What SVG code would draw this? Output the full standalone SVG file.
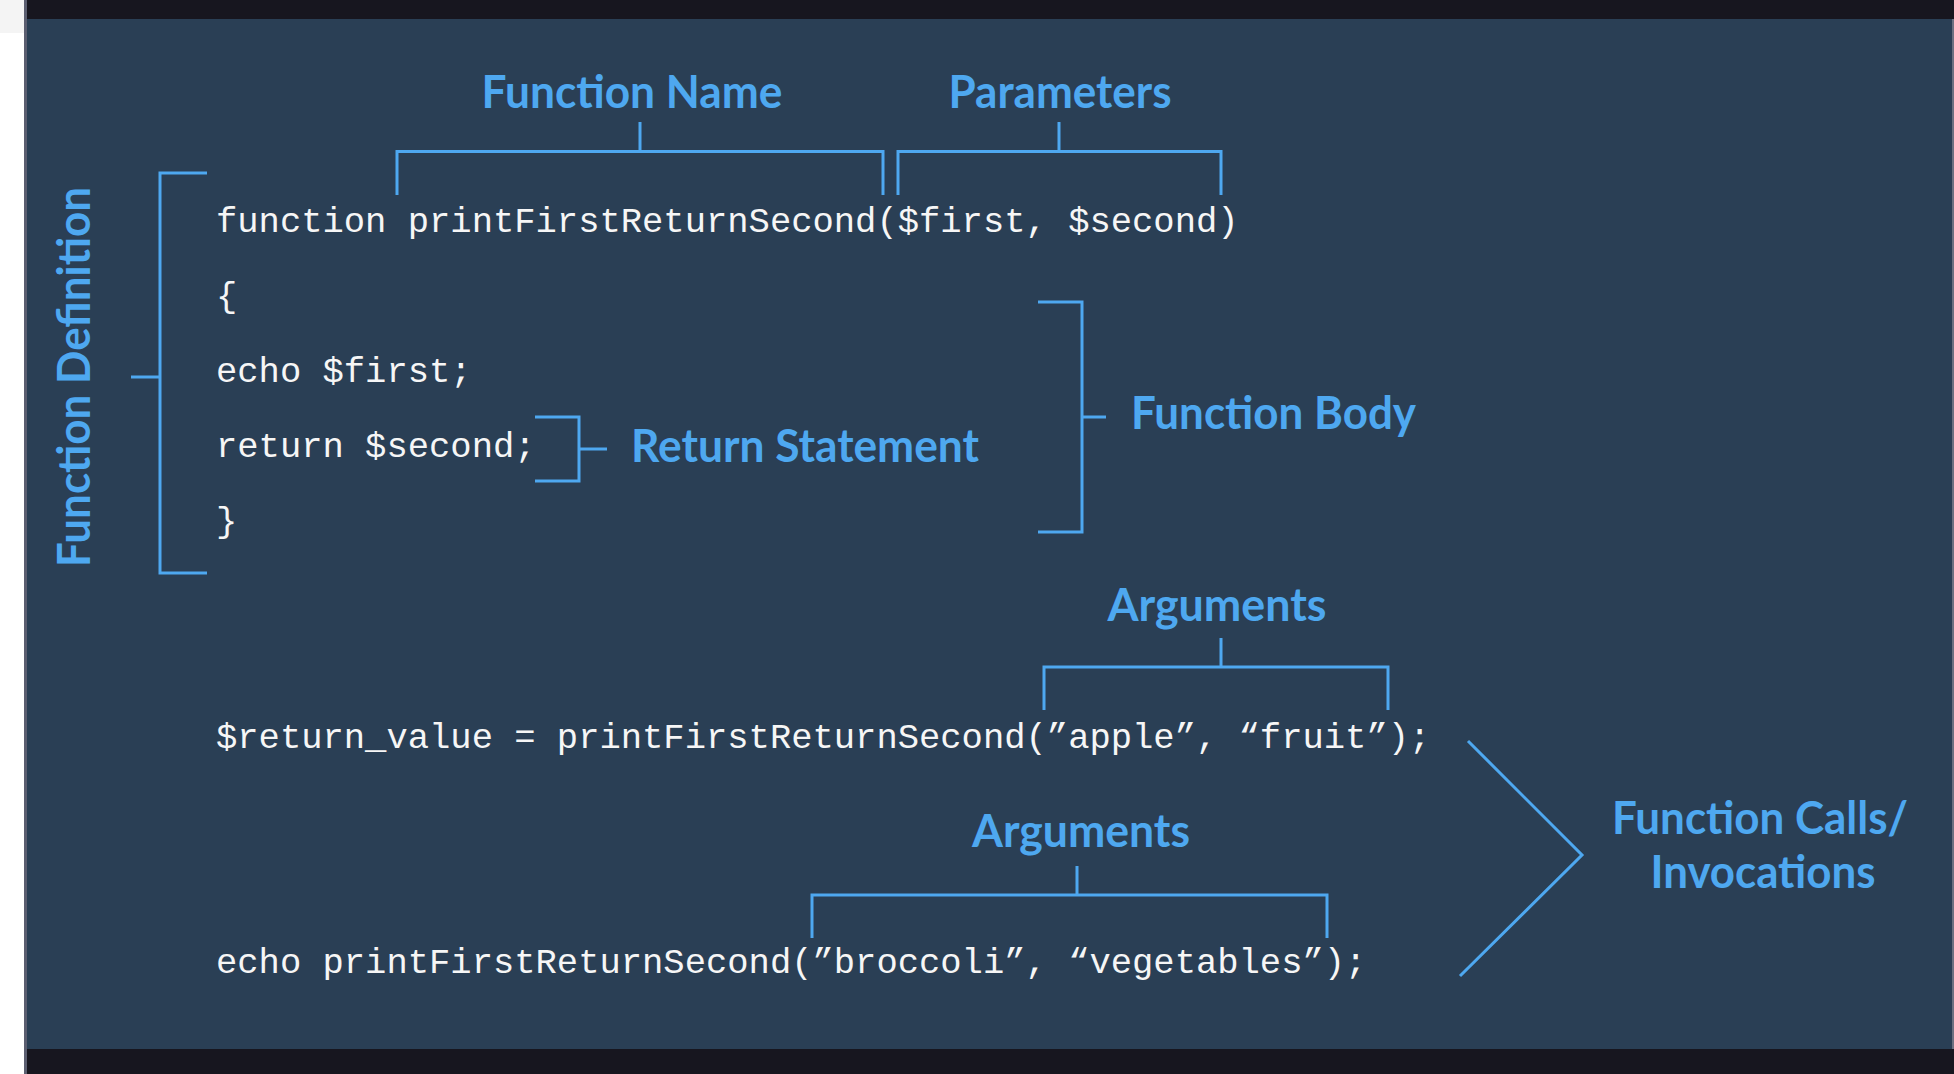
<svg xmlns="http://www.w3.org/2000/svg" width="1954" height="1074" viewBox="0 0 1954 1074">
  <style>
    .code { font-family: "Liberation Mono", "Courier New", monospace; font-size: 35.5px; fill: #f6f6f6; }
    .lbl { font-family: Lato, "Noto Sans", sans-serif; font-weight: 700; font-size: 45px; fill: #4ea8f0; }
    .br { fill: none; stroke: #4ea8f0; stroke-width: 3; stroke-linecap: butt; stroke-linejoin: miter; }
  </style>
  <!-- frame -->
  <rect x="0" y="0" width="1954" height="1074" fill="#ffffff"/>
  <rect x="0" y="0" width="24" height="33" fill="#f4f4f4"/>
  <rect x="24" y="0" width="1930" height="1074" fill="#5b5e70"/>
  <rect x="27" y="0" width="1925" height="1074" fill="#2a3f55"/>
  <rect x="27" y="0" width="1927" height="19" fill="#17161f"/>
  <rect x="27" y="1049" width="1927" height="25" fill="#17161f"/>
  <rect x="1952" y="19" width="2" height="1030" fill="#6b7080"/>

  <!-- code -->
  <g id="code">
    <text class="code" x="216" y="232">function printFirstReturnSecond($first, $second)</text>
    <text class="code" x="216" y="307">{</text>
    <text class="code" x="216" y="382">echo $first;</text>
    <text class="code" x="216" y="457">return $second;</text>
    <text class="code" x="216" y="532">}</text>
    <text class="code" x="216" y="748">$return_value = printFirstReturnSecond(”apple”, “fruit”);</text>
    <text class="code" x="216" y="973">echo printFirstReturnSecond(”broccoli”, “vegetables”);</text>
  </g>

  <!-- labels -->
  <g id="function-name"><text class="lbl" x="632" y="108" text-anchor="middle" textLength="301" lengthAdjust="spacingAndGlyphs">Function Name</text></g>
  <g id="parameters"><text class="lbl" x="1060" y="108" text-anchor="middle" textLength="223" lengthAdjust="spacingAndGlyphs">Parameters</text></g>
  <g id="function-definition"><text class="lbl" transform="translate(90,377) rotate(-90)" x="0" y="0" text-anchor="middle" textLength="380" lengthAdjust="spacingAndGlyphs">Function Definition</text></g>
  <g id="return-statement"><text class="lbl" x="631" y="462" textLength="348" lengthAdjust="spacingAndGlyphs">Return Statement</text></g>
  <g id="function-body"><text class="lbl" x="1131" y="429" textLength="285" lengthAdjust="spacingAndGlyphs">Function Body</text></g>
  <g id="arguments-1"><text class="lbl" x="1217" y="621" text-anchor="middle" textLength="219" lengthAdjust="spacingAndGlyphs">Arguments</text></g>
  <g id="arguments-2"><text class="lbl" x="1081" y="847" text-anchor="middle" textLength="218" lengthAdjust="spacingAndGlyphs">Arguments</text></g>
  <g id="function-calls">
    <text class="lbl" x="1760" y="834" text-anchor="middle" textLength="296" lengthAdjust="spacingAndGlyphs">Function Calls/</text>
    <text class="lbl" x="1763" y="888" text-anchor="middle" textLength="225" lengthAdjust="spacingAndGlyphs">Invocations</text>
  </g>

  <!-- connectors (brackets) -->
  <g id="connectors">
    <path class="br" d="M397,195 V151.5 H883 V195 M640,122 V151.5"/>
    <path class="br" d="M898,195 V151.5 H1221 V195 M1059,122 V151.5"/>
    <path class="br" d="M207,173 H160 V573 H207 M131,377 H160"/>
    <path class="br" d="M535,417 H579 V481 H535 M579,449 H607"/>
    <path class="br" d="M1038,302 H1082 V532 H1038 M1082,417 H1106"/>
    <path class="br" d="M1044,710 V667 H1388 V710 M1221,638 V667"/>
    <path class="br" d="M812,938 V895 H1327 V938 M1077,866 V895"/>
    <path class="br" d="M1468,741 L1582,855 L1460,976" stroke-width="2.5"/>
  </g>
</svg>
